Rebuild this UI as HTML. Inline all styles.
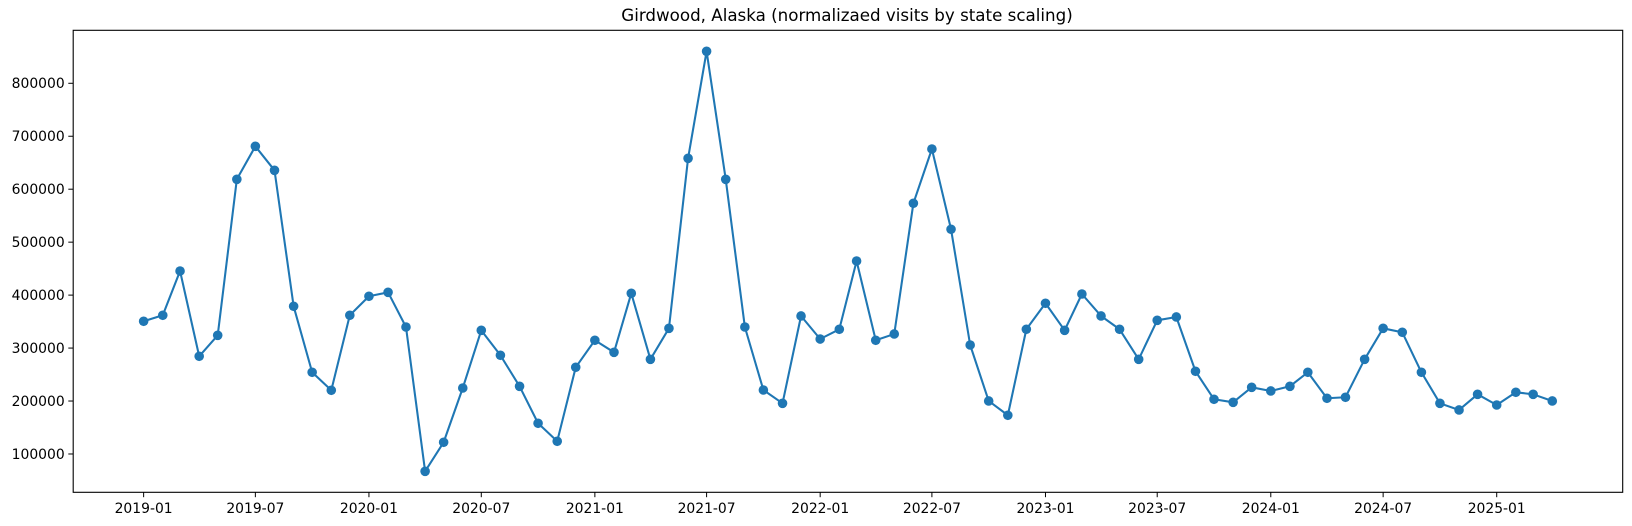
<!DOCTYPE html>
<html><head><meta charset="utf-8"><style>
html,body{margin:0;padding:0;background:#fff;}
svg{display:block;font-family:"DejaVu Sans","Liberation Sans",sans-serif;}
</style></head><body>
<svg id="chart" width="1632" height="526" viewBox="0 0 1632 526" xmlns="http://www.w3.org/2000/svg">
<rect x="0" y="0" width="1632" height="526" fill="#fff"/>
<text x="847" y="21" text-anchor="middle" font-size="16.7" fill="#000">Girdwood, Alaska (normalizaed visits by state scaling)</text>
<g id="plot"></g>
</svg>
<script>
const startYear = 2019;
const startMonth = 0;
const values = [
350600,361900,445500,284500,324100,618700,681000,635700,378900,254300,220300,361900,
397800,405300,339800,67300,122100,224600,333500,286400,227800,158000,124000,263700,
314700,292000,403400,278800,337300,658300,860400,618700,339800,220800,195700,360600,
317100,335500,464400,314700,326600,573400,675900,524300,305800,200100,173100,335500,
384600,333500,402100,360600,335500,278800,352400,358700,256200,203300,197600,225900,
219000,227800,254300,205200,207100,278800,337300,329800,254300,195700,183100,212700,
192500,216500,212700,200100
];
const yTicks = [100000,200000,300000,400000,500000,600000,700000,800000];
const xTickLabels = ["2019-01","2019-07","2020-01","2020-07","2021-01","2021-07","2022-01","2022-07","2023-01","2023-07","2024-01","2024-07","2025-01"];

const L=73.2, R=1622.7, T=30.3, B=492.3;
const NS="http://www.w3.org/2000/svg";
const dates = values.map((v,i)=>Date.UTC(startYear, startMonth+i, 1));
const d0 = dates[0], d1 = dates[dates.length-1];
const xm = (d1-d0)*0.05;
const xmin = d0-xm, xmax = d1+xm;
const vmin = Math.min(...values), vmax = Math.max(...values);
const ym = (vmax-vmin)*0.05;
const ymin = vmin-ym, ymax = vmax+ym;
function xs(t){return L+(t-xmin)/(xmax-xmin)*(R-L);}
function ys(v){return B-(v-ymin)/(ymax-ymin)*(B-T);}
const g=document.getElementById('plot');
function mk(tag,attrs){const e=document.createElementNS(NS,tag);for(const k in attrs)e.setAttribute(k,attrs[k]);return e;}

yTicks.forEach(v=>{
  const y=ys(v);
  const tk=mk('line',{x1:L-4.9,x2:L,y1:y,y2:y,stroke:'#000','stroke-width':1});
  
  
  g.appendChild(tk);
  const tx=mk('text',{x:L-8.5,y:y+4.8,'text-anchor':'end','font-size':13.9,fill:'#000'});
  tx.textContent=String(v);
  
  
  g.appendChild(tx);
});
xTickLabels.forEach(s=>{
  const p=s.split('-');
  const x=xs(Date.UTC(+p[0],+p[1]-1,1));
  const tk=mk('line',{x1:x,x2:x,y1:B,y2:B+4.9,stroke:'#000','stroke-width':1});
  
  
  g.appendChild(tk);
  const tx=mk('text',{x:x,y:B+20.5,'text-anchor':'middle','font-size':13.9,fill:'#000'});
  tx.textContent=s;
  
  
  g.appendChild(tx);
});
const pts=values.map((v,i)=>xs(dates[i]).toFixed(2)+','+ys(v).toFixed(2)).join(' ');
const line=mk('polyline',{points:pts,fill:'none',stroke:'#1f77b4','stroke-width':2.08,'stroke-linejoin':'round'});


g.appendChild(line);
values.forEach((v,i)=>{
  const c=mk('circle',{cx:xs(dates[i]),cy:ys(v),r:4.8,fill:'#1f77b4'});
  
  
  g.appendChild(c);
});
const fr=mk('rect',{x:L,y:T,width:R-L,height:B-T,fill:'none',stroke:'#000','stroke-width':1.1});


g.appendChild(fr);
</script>
</body></html>
